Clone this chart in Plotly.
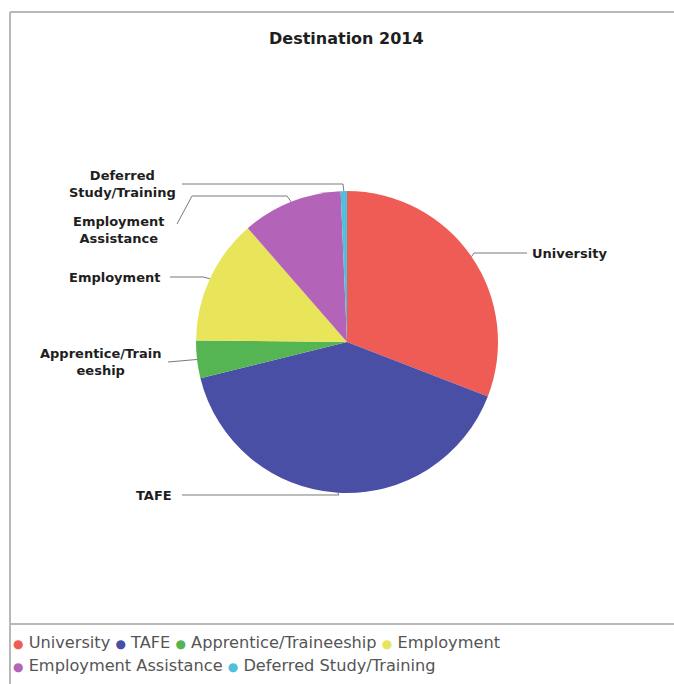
import math
import plotly.graph_objects as go

# Destination counts for 2014 leavers
categories = ["University", "TAFE", "Apprentice/Traineeship", "Employment",
              "Employment Assistance", "Deferred Study/Training"]
counts = [46, 60, 6, 20, 16, 1]
colors = ["#EF5B55", "#4A4FA6", "#55B552", "#E9E55A", "#B363B8", "#4FC0DA"]

# Label text drawn beside the pie (line breaks as shown on the chart)
slice_labels = ["University", "TAFE", "Apprentice/Train<br>eeship", "Employment",
                "Employment<br>Assistance", "Deferred<br>Study/Training"]

W, H = 674, 684
CX, CY, R = 347, 342, 151  # pie centre and radius in pixels


def px(x):
    return x / W


def py(y):
    return 1 - y / H


fig = go.Figure(go.Pie(
    labels=categories,
    values=counts,
    sort=False,
    direction="clockwise",
    rotation=0,
    textinfo="none",
    marker=dict(colors=colors, line=dict(width=0)),
    domain=dict(x=[px(CX - R), px(CX + R)], y=[py(CY + R), py(CY - R)]),
    showlegend=False,
))

# Edge point of each slice at its mid angle
total = sum(counts)
edges = []
cum = 0
for v in counts:
    mid = (cum + v / 2) / total * 2 * math.pi
    edges.append((CX + R * math.sin(mid), CY - R * math.cos(mid)))
    cum += v

# Label placement: (text anchor x, text y, xanchor) and leader knee points
label_pos = [
    (530, 253, "left"),
    (174, 495, "right"),
    (163, 362, "right"),
    (162, 277, "right"),
    (166, 230, "right"),
    (178, 184, "right"),
]
leader_knees = [
    [(527, 253), (474, 253)],
    [(182, 495), (339, 495)],
    [(168, 362)],
    [(170, 277), (203, 277)],
    [(177, 224), (192, 196), (287, 196)],
    [(182, 184), (343, 184)],
]

shapes = []
annotations = []
line_col = "#7a7a7a"
for i, name in enumerate(slice_labels):
    lx, ly, anchor = label_pos[i]
    annotations.append(dict(
        x=px(lx), y=py(ly), xref="paper", yref="paper",
        text="<b>" + name + "</b>", showarrow=False,
        xanchor=anchor, yanchor="middle", align="center",
        font=dict(family="DejaVu Sans", size=13, color="#1e1e1e"),
    ))
    pts = leader_knees[i] + [edges[i]]
    path = "M " + " L ".join(f"{px(x):.5f},{py(y):.5f}" for x, y in pts)
    shapes.append(dict(type="path", path=path, xref="paper", yref="paper",
                       line=dict(color=line_col, width=1)))

# Title
annotations.append(dict(
    x=px(347), y=py(38), xref="paper", yref="paper",
    text="<b>Destination 2014</b>", showarrow=False,
    xanchor="center", yanchor="middle",
    font=dict(family="DejaVu Sans", size=16, color="#1e1e1e"),
))

# Legend rows with small round colour markers
legend_rows = [[0, 1, 2, 3], [4, 5]]
legend_y = [642, 665]
for row, ly in zip(legend_rows, legend_y):
    parts = [f"<span style='color:{colors[i]};font-size:12px'>●</span> {categories[i]}"
             for i in row]
    annotations.append(dict(
        x=px(11), y=py(ly), xref="paper", yref="paper",
        text=" ".join(parts), showarrow=False,
        xanchor="left", yanchor="middle", align="left",
        font=dict(family="DejaVu Sans", size=16.2, color="#555555"),
    ))

# Chart frame and legend separator
frame_col = "#b8b8b8"
shapes += [
    dict(type="line", xref="paper", yref="paper", x0=px(10), x1=1, y0=py(12), y1=py(12),
         line=dict(color=frame_col, width=2)),
    dict(type="line", xref="paper", yref="paper", x0=px(10), x1=px(10), y0=py(12), y1=0,
         line=dict(color=frame_col, width=2)),
    dict(type="line", xref="paper", yref="paper", x0=px(10), x1=1, y0=py(624), y1=py(624),
         line=dict(color=frame_col, width=2)),
]

fig.update_layout(
    width=W, height=H,
    margin=dict(l=0, r=0, t=0, b=0),
    paper_bgcolor="white",
    plot_bgcolor="white",
    shapes=shapes,
    annotations=annotations,
)

fig.write_html("out.html")
